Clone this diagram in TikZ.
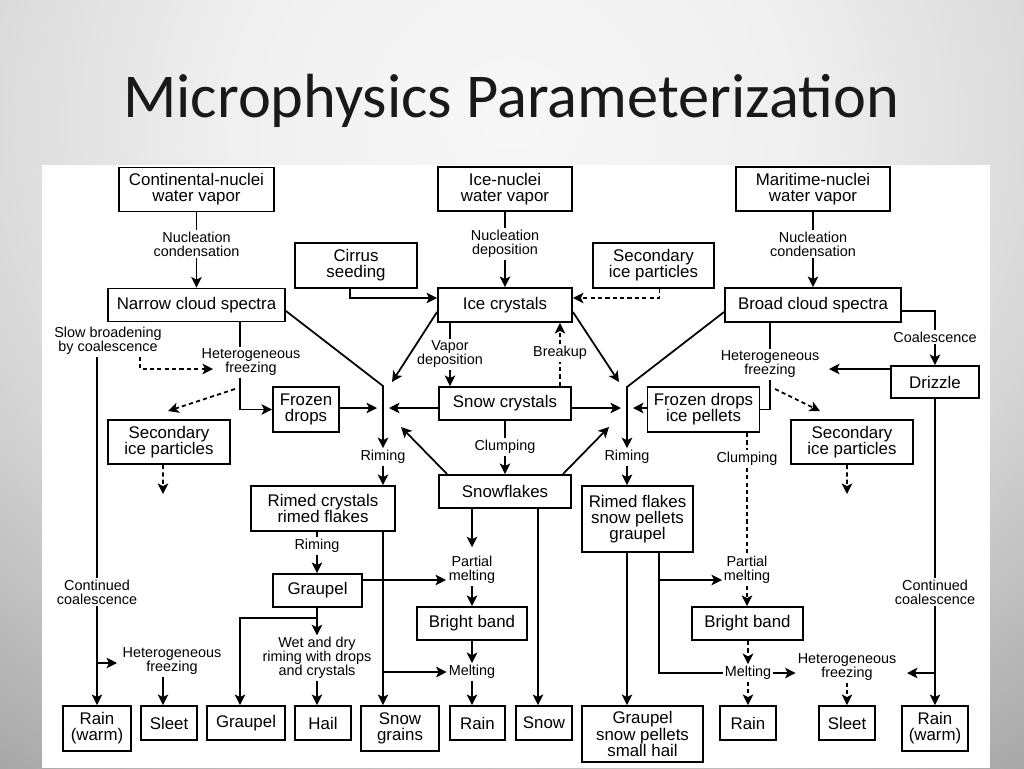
\documentclass[tikz,border=0pt]{standalone}
\usepackage{fontspec}
\setmainfont{Liberation Sans}
\newfontfamily\titlefont{Carlito}
\usetikzlibrary{arrows.meta}
\setlength{\lineskiplimit}{-100pt}

\pgfdeclareradialshading{slidebg}{\pgfpoint{0bp}{0bp}}{%
  color(0bp)=(black!3); color(10bp)=(black!6); color(20bp)=(black!16);
  color(30bp)=(black!33); color(38bp)=(black!45); color(50bp)=(black!55)}

\begin{document}
\begin{tikzpicture}[x=0.02cm, y=-0.02cm,
  box/.style={draw, line width=1.1pt, inner sep=1pt, align=center, fill=white,
              font=\fontsize{9.6}{9.2}\selectfont},
  sz/.style 2 args={minimum width=#1*0.02cm, minimum height=#2*0.02cm},
  lbl/.style={inner sep=1pt, align=center, font=\fontsize{8.2}{7.9}\selectfont},
  link/.style={draw, line width=1pt},
  arr/.style={link, -{Stealth[length=6pt, width=6pt, inset=1.5pt]}},
  dlink/.style={link, dash pattern=on 2.4pt off 1.8pt},
  darr/.style={arr, dash pattern=on 2.4pt off 1.8pt},
]
\useasboundingbox (0,0) rectangle (1024,768);
\begin{scope}
  \clip (0,0) rectangle (1024,768);
  \shade[shading=slidebg] (-200,-528) rectangle (1224,768);
\end{scope}
\fill[white] (42,165) rectangle (990,768);
\node[font=\titlefont\fontsize{35.5}{40}\selectfont, text=black!90, anchor=base] (title) at (511,117) {Microphysics Parameterization};

% boxes
\node[box, sz={155}{44}] (cont) at (196.5,189.5) {Continental-nuclei\\water vapor};
\node[box, sz={134}{44}] (icenuc) at (505,189) {Ice-nuclei\\water vapor};
\node[box, sz={154}{44}] (mari) at (813,189) {Maritime-nuclei\\water vapor};
\node[box, sz={122}{45}] (cirrus) at (356,265.5) {Cirrus\\seeding};
\node[box, sz={121}{45}] (sectop) at (653.5,265.5) {Secondary\\ice particles};
\node[box, sz={177}{33}] (narrow) at (196.5,305) {Narrow cloud spectra};
\node[box, sz={134}{34}] (ice) at (505,305) {Ice crystals};
\node[box, sz={176}{34}] (broad) at (813,305) {Broad cloud spectra};
\node[box, sz={88}{32}] (drizzle) at (935,382) {Drizzle};
\node[box, sz={66}{45}] (frozen) at (306,409.5) {Frozen\\drops};
\node[box, sz={132}{33}] (snowcr) at (505,403.5) {Snow crystals};
\node[box, sz={112}{45}] (frozenip) at (703.5,409.5) {Frozen drops\\ice pellets};
\node[box, sz={122}{44}] (secleft) at (169,442) {Secondary\\ice particles};
\node[box, sz={122}{44}] (secright) at (852,442) {Secondary\\ice particles};
\node[box, sz={132}{33}] (flakes) at (505,491.5) {Snowflakes};
\node[box, sz={144}{45}] (rimedcr) at (323,508.5) {Rimed crystals\\rimed flakes};
\node[box, sz={111}{66}] (rimedfl) at (637.5,519) {Rimed flakes\\snow pellets\\graupel};
\node[box, sz={89}{33}] (graupmid) at (317.5,590.5) {Graupel};
\node[box, sz={110}{33}] (bbleft) at (472,623.5) {Bright band};
\node[box, sz={111}{33}] (bbright) at (747.5,623.5) {Bright band};
% bottom row
\node[box, sz={68}{45}] (rainwl) at (97,728.5) {Rain\\(warm)};
\node[box, sz={56}{34}] (sleetl) at (169,723) {Sleet};
\node[box, sz={78}{34}] (graupbot) at (246,723) {Graupel};
\node[box, sz={56}{34}] (hail) at (323,723) {Hail};
\node[box, sz={78}{45}] (sgrains) at (400,728.5) {Snow\\grains};
\node[box, sz={55}{34}] (rain) at (477.5,723) {Rain};
\node[box, sz={56}{34}] (snow) at (544,723) {Snow};
\node[box, sz={121}{56}] (gsp) at (642.5,734) {Graupel\\snow pellets\\small hail};
\node[box, sz={56}{34}] (rainr) at (748,723) {Rain};
\node[box, sz={56}{34}] (sleetr) at (847,723) {Sleet};
\node[box, sz={66}{45}] (rainwr) at (935,728.5) {Rain\\(warm)};

% process labels
\node[lbl] (nuccont) at (196.5,244) {Nucleation\\condensation};
\node[lbl] (nucdep) at (505,244) {Nucleation\\deposition};
\node[lbl] (nucmar) at (813,244) {Nucleation\\condensation};
\node[lbl] (slow) at (108,341) {Slow broadening\\by coalescence};
\node[lbl] (hfL) at (251,362) {Heterogeneous\\freezing};
\node[lbl] (vap) at (450,354) {Vapor\\deposition};
\node[lbl] (brk) at (560,353) {Breakup};
\node[lbl] (coal) at (935,337) {Coalescence};
\node[lbl] (hfR) at (770,364) {Heterogeneous\\freezing};
\node[lbl] (rimL) at (383,457) {Riming};
\node[lbl] (clump) at (505,447) {Clumping};
\node[lbl] (rimR) at (627,457) {Riming};
\node[lbl] (clumpR) at (747,459) {Clumping};
\node[lbl] (rimG) at (317,546) {Riming};
\node[lbl] (pmleft) at (472,570) {Partial\\melting};
\node[lbl] (pmright) at (747,570) {Partial\\melting};
\node[lbl] (ccL) at (97,592) {Continued\\coalescence};
\node[lbl] (ccR) at (935,592) {Continued\\coalescence};
\node[lbl] (hfbotleft) at (172,661) {Heterogeneous\\freezing};
\node[lbl] (wet) at (317,658) {Wet and dry\\riming with drops\\and crystals};
\node[lbl] (meltleft) at (472,672) {Melting};
\node[lbl] (meltright) at (748,673) {Melting};
\node[lbl] (hfbotright) at (847,667) {Heterogeneous\\freezing};

% junctions and free ends
\coordinate (jL) at (383,386);
\coordinate (jLa) at (392,382);
\coordinate (jLb) at (377,408);
\coordinate (jLc) at (389,408);
\coordinate (jLd) at (401,427);
\coordinate (jR) at (627,387);
\coordinate (jRa) at (619,382);
\coordinate (jRb) at (633,408);
\coordinate (jRc) at (621,408);
\coordinate (jRd) at (609,427);
\coordinate (hfLin) at (213,369);
\coordinate (hfLout) at (235,389);
\coordinate (secLtip) at (168,411);
\coordinate (hfRout) at (775,389);
\coordinate (secRtip) at (820,411);
\coordinate (hfRin) at (829,369);
\coordinate (secLend) at (163,494);
\coordinate (secRend) at (847,494);
\coordinate (pmLin) at (446,580);
\coordinate (pmRin) at (722,580);
\coordinate (gsplit) at (317,618);
\coordinate (hfBLin) at (117,663);
\coordinate (hfBRin) at (907,673);

% nucleation
\draw[link] (cont) -- (nuccont);
\draw[arr] (nuccont) -- (narrow);
\draw[link] (icenuc) -- (nucdep);
\draw[arr] (nucdep) -- (ice);
\draw[link] (mari) -- (nucmar);
\draw[arr] (nucmar) -- (broad);
\draw[arr] ([xshift=-0.12cm]cirrus.south) |- ([yshift=0.14cm]ice.west);
\draw[darr] ([xshift=0.12cm]sectop.south) |- ([yshift=0.14cm]ice.east);

% left branch
\draw[link] (slow.south -| ccL) -- (ccL.north);
\draw[arr] (ccL.south) -- (ccL.south |- rainwl.north);
\draw[arr] (ccL.south |- hfBLin) -- (hfBLin);
\draw[arr] ([xshift=-0.18cm]hfbotleft.south) -- ([xshift=-0.18cm]hfbotleft.south |- sleetl.north);
\draw[darr] ([xshift=0.64cm]slow.south) |- (hfLin);
\draw[link] ([xshift=-0.22cm]hfL.north |- narrow.south) -- ([xshift=-0.22cm]hfL.north);
\draw[arr] ([xshift=-0.22cm]hfL.south) |- (frozen.west);
\draw[darr] (hfLout) -- (secLtip);
\draw[darr] ([xshift=-0.12cm]secleft.south) -- (secLend);

% left junction
\draw[arr] ([yshift=-0.12cm]narrow.east) -- (jL) -- (rimL.north);
\draw[arr] ([yshift=-0.14cm]ice.west) -- (jLa);
\draw[arr] (frozen.east |- jLb) -- (jLb);
\draw[arr] (snowcr.west |- jLc) -- (jLc);
\draw[arr] ([xshift=0.18cm]flakes.north west) -- (jLd);
\draw[arr] (rimL.south) -- (rimL.south |- rimedcr.north);

% ice crystals and snow
\draw[link] (vap.north |- ice.south) -- (vap.north);
\draw[arr] (vap.south) -- (vap.south |- snowcr.north);
\draw[dlink] (brk.south |- snowcr.north) -- (brk.south);
\draw[darr] (brk.north) -- (brk.north |- ice.south);
\draw[link] (snowcr) -- (clump);
\draw[arr] (clump) -- (flakes);

% right junction
\draw[arr] ([yshift=-0.14cm]broad.west) -- (jR) -- (rimR.north);
\draw[arr] ([yshift=-0.14cm]ice.east) -- (jRa);
\draw[arr] (snowcr.east |- jRc) -- (jRc);
\draw[arr] (frozenip.west |- jRb) -- (jRb);
\draw[arr] ([xshift=-0.18cm]flakes.north east) -- (jRd);
\draw[arr] (rimR.south) -- (rimR.south |- rimedfl.north);

% right branch
\draw[link] (hfR.north |- broad.south) -- (hfR.north);
\draw[link] (hfR.south) |- (frozenip.east);
\draw[darr] (hfRout) -- (secRtip);
\draw[darr] ([xshift=-0.1cm]secright.south) -- (secRend);
\draw[link] ([yshift=-0.12cm]broad.east) -| (coal.north);
\draw[arr] (coal.south) -- (drizzle.north);
\draw[arr] (drizzle.west |- hfRin) -- (hfRin);
\draw[link] (drizzle) -- (ccR);
\draw[arr] (ccR) -- (rainwr);
\draw[arr] (ccR.south |- hfBRin) -- (hfBRin);
\draw[darr] (hfbotright.south) -- (hfbotright.south |- sleetr.north);

% rimed crystals and graupel
\draw[link] (rimG.north |- rimedcr.south) -- (rimG.north);
\draw[arr] (rimG.south) -- (rimG.south |- graupmid.north);
\draw[arr] (rimedcr.south -| jL) -- (sgrains.north -| jL);
\draw[arr] (jL |- meltleft) -- (meltleft.west);
\draw[arr] (graupmid.east |- pmLin) -- (pmLin);
\draw[arr] (graupmid.south -| gsplit) -- (gsplit) -| ([xshift=-0.12cm]graupbot.north);
\draw[arr] (gsplit) -- (wet.north);
\draw[arr] (wet.south) -- (wet.south |- hail.north);

% snowflakes
\draw[arr] ([xshift=-0.66cm]flakes.south) -- ([yshift=0.14cm]pmleft.north);
\draw[arr] ([xshift=0.66cm]flakes.south) -- ([xshift=0.66cm]flakes.south |- snow.north);
\draw[arr] (pmleft) -- (bbleft);
\draw[arr] (bbleft) -- (meltleft);
\draw[arr] (meltleft.south) -- (meltleft.south |- rain.north);

% rimed flakes
\draw[arr] ([xshift=-0.21cm]rimedfl.south) -- ([xshift=-0.21cm]rimedfl.south |- gsp.north);
\draw[link] ([xshift=0.43cm]rimedfl.south) |- (meltright.west);
\draw[arr] ([xshift=0.43cm]rimedfl.south |- pmRin) -- (pmRin);
\draw[arr] (meltright.east) -- (meltright.east -| hfbotright.west);

% dashed clumping chain
\draw[dlink] (clumpR.north |- frozenip.south) -- (clumpR.north);
\draw[dlink] (clumpR) -- (pmright);
\draw[darr] (pmright) -- (pmright |- bbright.north);
\draw[darr] (bbright.south -| meltright) -- (meltright.north);
\draw[darr] (meltright.south) -- (meltright.south |- rainr.north);
\end{tikzpicture}
\end{document}
